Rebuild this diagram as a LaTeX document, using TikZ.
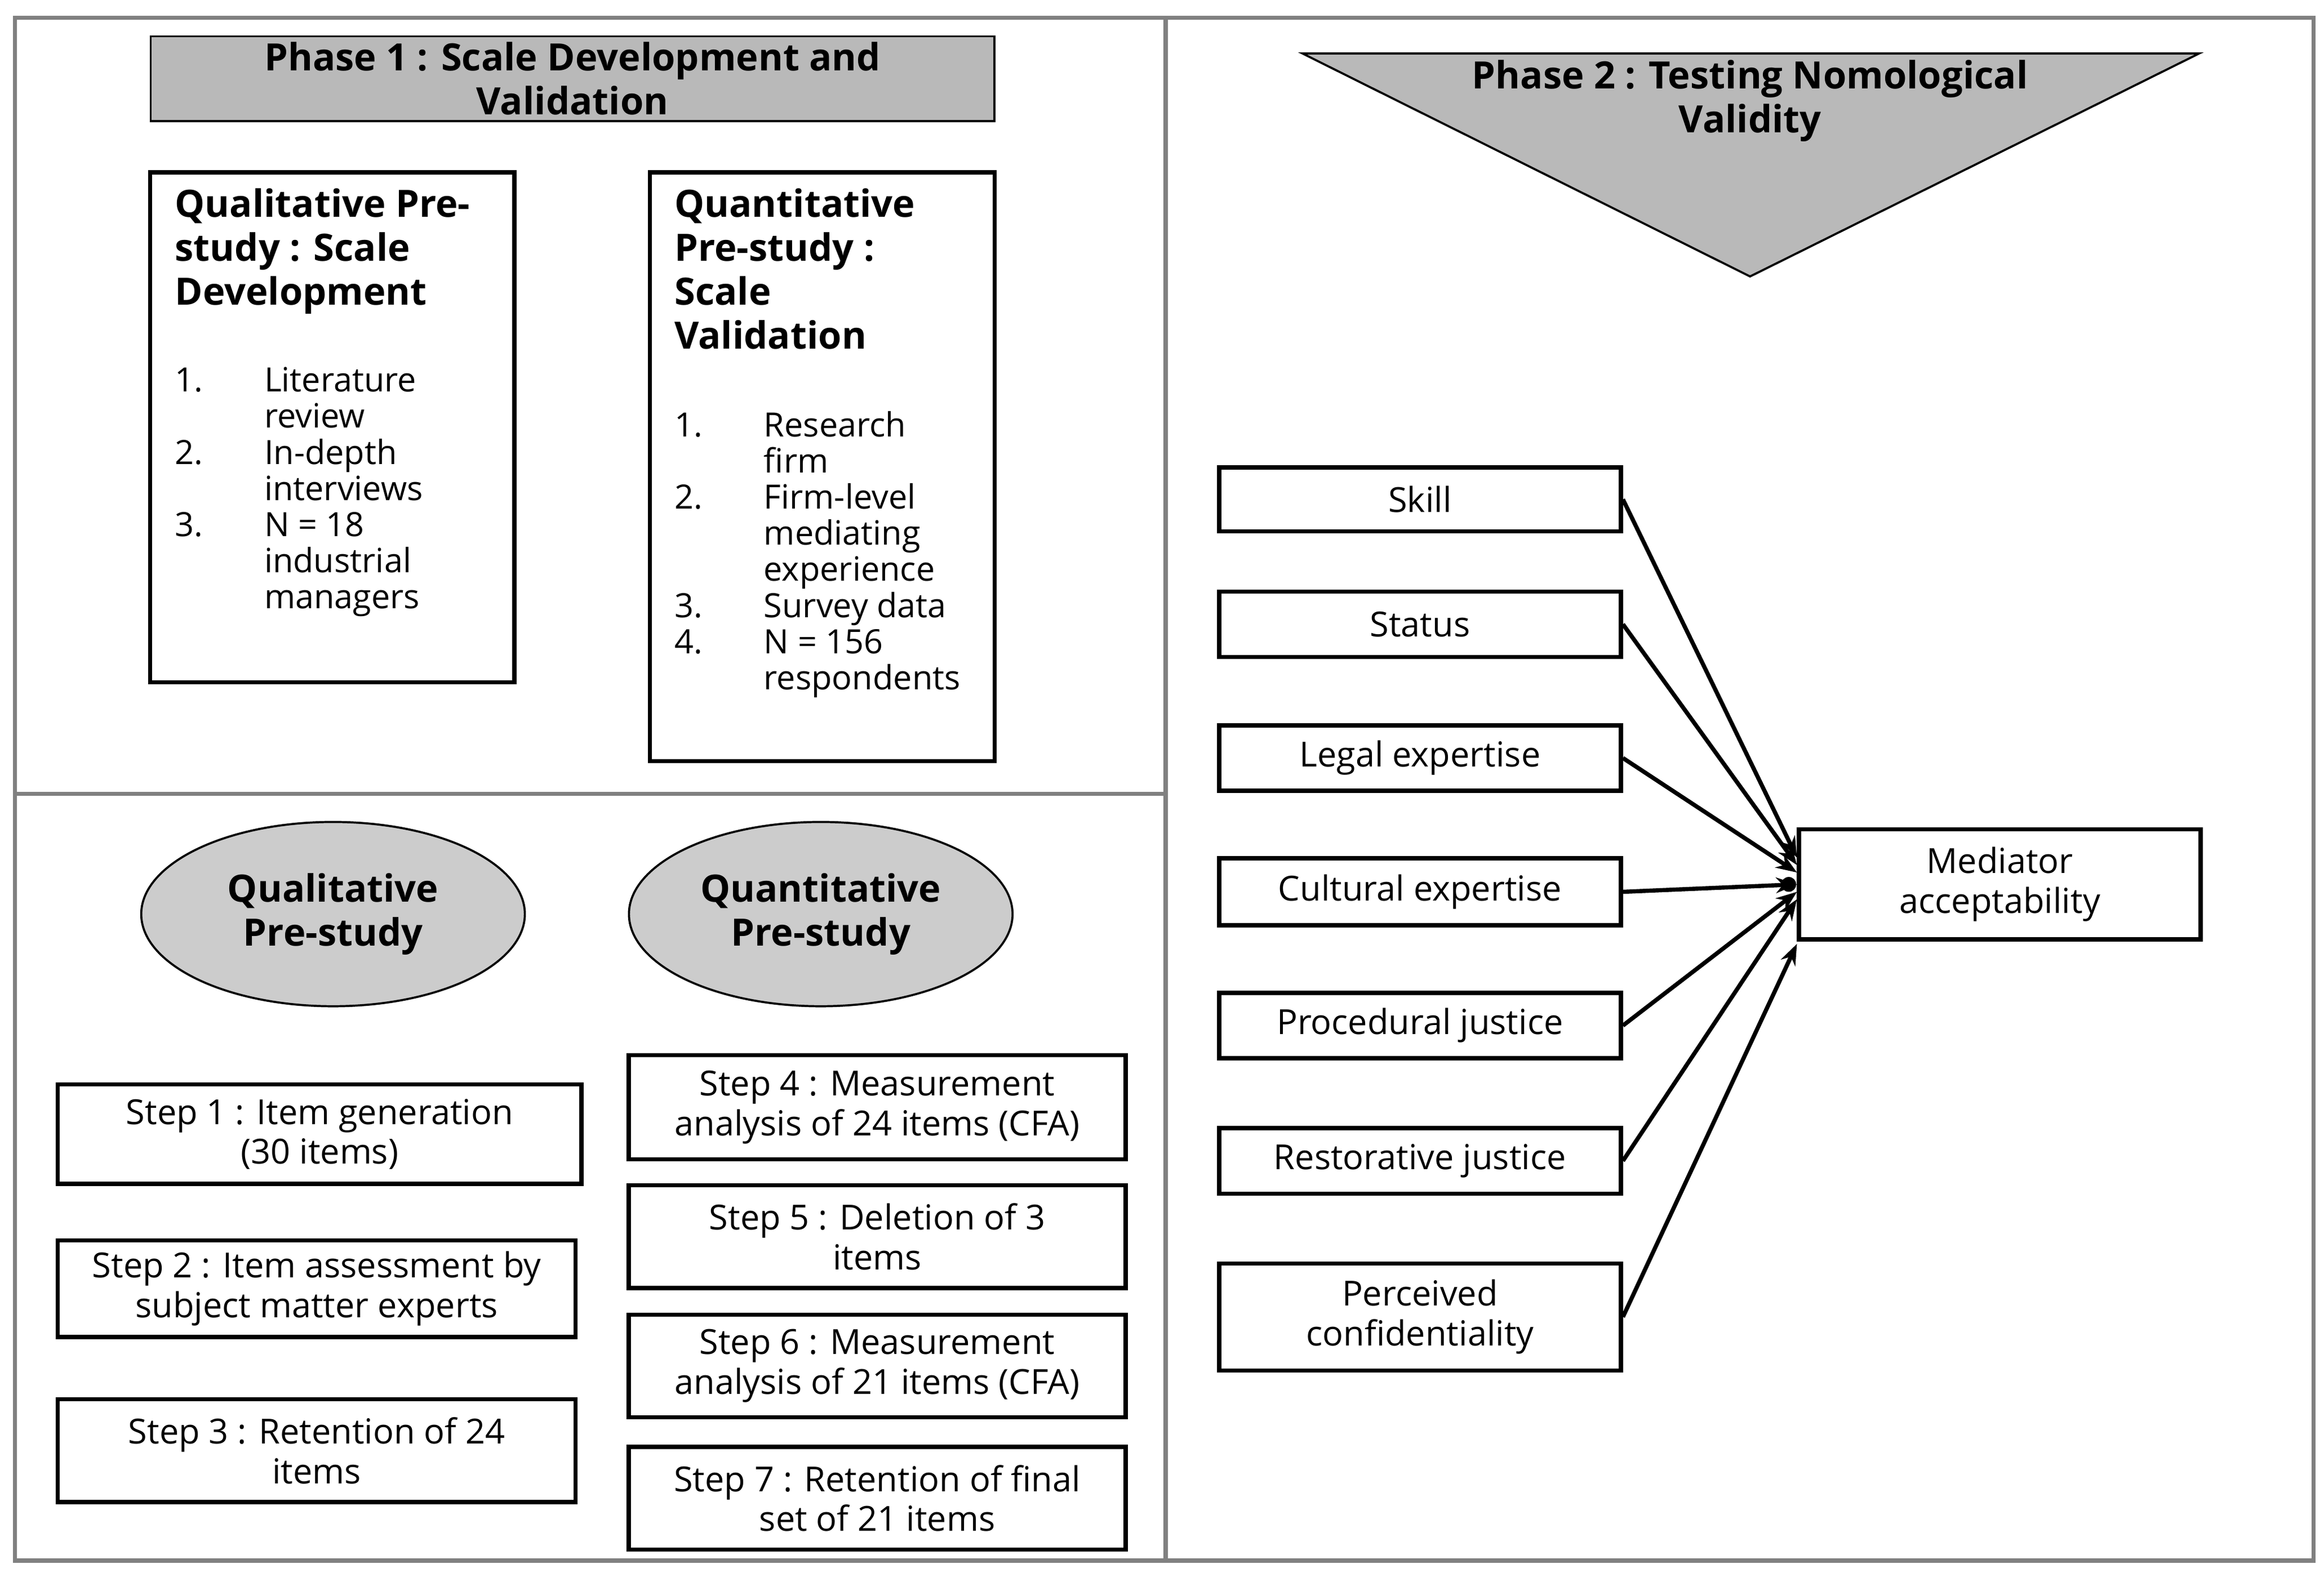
\documentclass[tikz,border=0pt]{standalone}
\usepackage{fontspec}
\usepackage{array}
\setmainfont{Open Sans}
\usetikzlibrary{positioning,arrows.meta}
\tikzset{
  box/.style={draw,thick,align=center,inner sep=1pt,font=\fontsize{6.6}{7.6}\selectfont},
  titlebox/.style={draw,fill=gray!55,align=center,font=\fontsize{7.2}{8.4}\selectfont\bfseries},
  lbl/.style={anchor=north west,align=left,inner sep=0pt,font=\fontsize{6.4}{6.9}\selectfont},
  arr/.style={-{Stealth[length=4pt]},thick}
}
\newcolumntype{L}[1]{>{\raggedright\arraybackslash\hyphenpenalty=10000}p{#1}}
\begin{document}
\begin{tikzpicture}[x=0.01cm,y=-0.01cm]
\useasboundingbox (0,0) rectangle (1563,1058);
% frame
\draw[gray,thick] (10,12) rectangle (1556,1050);
\draw[gray,thick] (784,12) -- (784,1050);
\draw[gray,thick] (10,534) -- (784,534);
% phase titles
\node[titlebox,minimum width=5.67cm,minimum height=0.57cm,inner sep=0pt] (ph1) at (385,53) {Phase 1 : Scale Development and\\Validation};
\draw[fill=gray!55] (876,36) -- (1479,36) -- (1177,186) -- cycle;
\node[font=\fontsize{7.2}{8.4}\selectfont\bfseries,align=center] (ph2) at (1177,68) {Phase 2 : Testing Nomological\\Validity};
% pre-study boxes
\draw[thick] (101,116) rectangle (346,459);
\draw[thick] (437,116) rectangle (669,512);
\node[lbl,font=\fontsize{7.2}{8.4}\selectfont\bfseries] (qlt) at (117,126) {Qualitative Pre-\\study : Scale\\Development};
\node[lbl] (qltl) at (117,246) {\begin{tabular}{@{}L{0.6cm}@{}L{1.1cm}@{}}
1. & Literature review\\ 2. & In-depth interviews\\ 3. & N = 18 industrial managers\end{tabular}};
\node[lbl,font=\fontsize{7.2}{8.4}\selectfont\bfseries] (qnt) at (453,126) {Quantitative\\Pre-study :\\Scale\\Validation};
\node[lbl] (qntl) at (453,276) {\begin{tabular}{@{}L{0.6cm}@{}L{1.3cm}@{}}
1. & Research firm\\ 2. & Firm-level mediating experience\\ 3. & Survey data\\ 4. & N = 156 respondents\end{tabular}};
% ellipses
\draw[fill=gray!40] (224,615) ellipse [x radius=129,y radius=62];
\node[font=\fontsize{7.2}{8.4}\selectfont\bfseries,align=center] (qle) at (224,615) {Qualitative\\Pre-study};
\draw[fill=gray!40] (552,615) ellipse [x radius=129,y radius=62];
\node[font=\fontsize{7.2}{8.4}\selectfont\bfseries,align=center] (qne) at (552,615) {Quantitative\\Pre-study};
% steps
\node[box,minimum width=3.52cm,minimum height=0.67cm] (s1) at (215,763) {Step 1 : Item generation\\(30 items)};
\node[box,minimum width=3.48cm,minimum height=0.65cm] (s2) at (213,867) {Step 2 : Item assessment by\\subject matter experts};
\node[box,minimum width=3.48cm,minimum height=0.69cm] (s3) at (213,976) {Step 3 : Retention of 24\\items};
\node[box,minimum width=3.34cm,minimum height=0.70cm] (s4) at (590,745) {Step 4 : Measurement\\analysis of 24 items (CFA)};
\node[box,minimum width=3.34cm,minimum height=0.69cm] (s5) at (590,832) {Step 5 : Deletion of 3\\items};
\node[box,minimum width=3.34cm,minimum height=0.69cm] (s6) at (590,919) {Step 6 : Measurement\\analysis of 21 items (CFA)};
\node[box,minimum width=3.34cm,minimum height=0.69cm] (s7) at (590,1008) {Step 7 : Retention of final\\set of 21 items};
% phase 2 model
\node[box,minimum width=2.7cm,minimum height=0.43cm] (skl) at (955,336) {Skill};
\node[box,minimum width=2.7cm,minimum height=0.44cm] (sts) at (955,420) {Status};
\node[box,minimum width=2.7cm,minimum height=0.44cm] (lgl) at (955,510) {Legal expertise};
\node[box,minimum width=2.7cm,minimum height=0.45cm] (cul) at (955,600) {Cultural expertise};
\node[box,minimum width=2.7cm,minimum height=0.44cm] (prc) at (955,690) {Procedural justice};
\node[box,minimum width=2.7cm,minimum height=0.44cm] (rst) at (955,781) {Restorative justice};
\node[box,minimum width=2.7cm,minimum height=0.72cm] (prv) at (955,886) {Perceived\\confidentiality};
\node[box,minimum width=2.7cm,minimum height=0.74cm] (med) at (1345,595) {Mediator\\acceptability};
\fill (1203,595) circle (5);
\foreach \src/\dy in {skl/-18,sts/-13,lgl/-8,cul/0,prc/5,rst/10,prv/40}
  \draw[arr] (\src.east) -- ([yshift=-\dy*0.01cm]med.west);
\end{tikzpicture}
\end{document}
